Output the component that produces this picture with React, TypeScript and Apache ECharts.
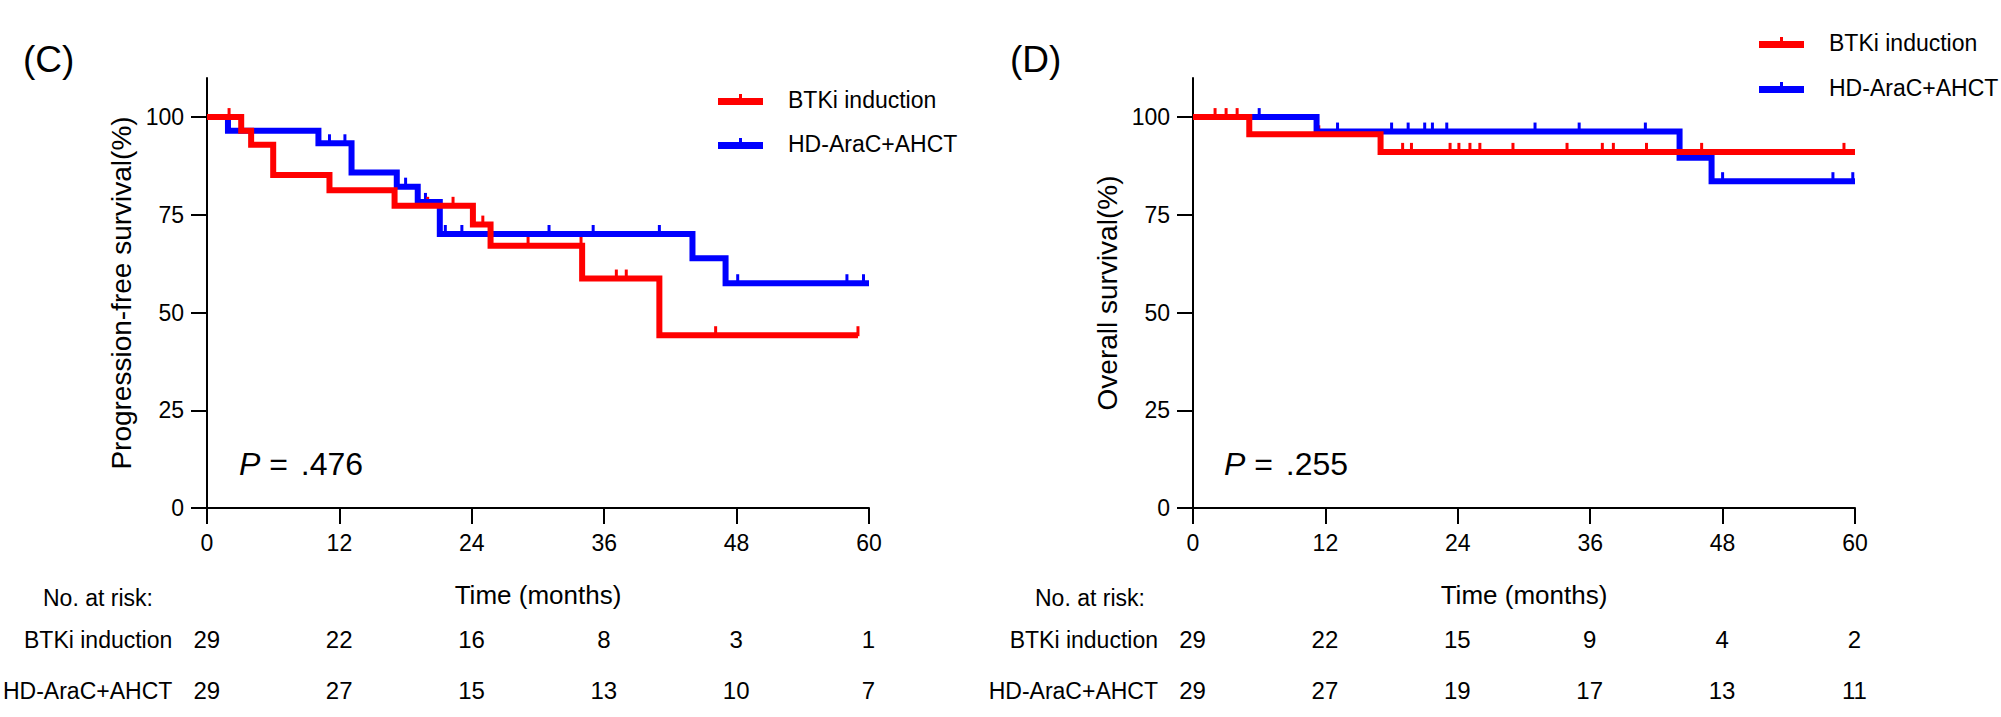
import React, { useEffect, useRef } from "react";
import * as echarts from "echarts";

const FONT = "'Liberation Sans', Arial, Helvetica, sans-serif";
const RED = "#ff0000";
const BLUE = "#0000ff";

const GROUPS = ["BTKi induction", "HD-AraC+AHCT"];
const X_TICKS = [0, 12, 24, 36, 48, 60];
const Y_TICKS = [0, 25, 50, 75, 100];

// Panel C: progression-free survival
const pfsBtkiTime = [0, 3.1, 4.0, 6.0, 11.1, 17.0, 24.1, 25.7, 34.0, 41.0, 59.0];
const pfsBtkiSurv = [100, 96.5, 92.9, 85.2, 81.3, 77.3, 72.5, 67.1, 58.7, 44.2, 44.2];
const pfsBtkiCensor = [2.0, 20.0, 22.3, 25.0, 29.1, 33.9, 37.1, 38.0, 46.1, 59.0];
const pfsAhctTime = [0, 1.9, 10.1, 13.1, 17.2, 19.1, 21.1, 44.0, 47.0, 60];
const pfsAhctSurv = [100, 96.5, 93.3, 85.8, 82.2, 78.3, 70.1, 63.9, 57.5, 57.5];
const pfsAhctCensor = [11.1, 12.5, 18.0, 19.8, 21.6, 23.1, 31.0, 35.0, 41.0, 48.1, 58.0, 59.5];
const pfsRiskBtki = [29, 22, 16, 8, 3, 1];
const pfsRiskAhct = [29, 27, 15, 13, 10, 7];

// Panel D: overall survival
const osBtkiTime = [0, 5.1, 17.0, 60];
const osBtkiSurv = [100, 95.6, 91.1, 91.1];
const osBtkiCensor = [2.0, 3.0, 4.0, 11.4, 19.0, 19.8, 23.3, 24.1, 25.1, 26.0, 29.0, 33.9, 37.1, 38.1, 41.1, 46.1, 59.0];
const osAhctTime = [0, 11.2, 44.1, 47.0, 60];
const osAhctSurv = [100, 96.3, 89.6, 83.6, 83.6];
const osAhctCensor = [6.0, 13.1, 18.0, 19.5, 21.0, 21.7, 23.0, 31.0, 35.0, 41.0, 48.0, 58.0, 59.8];
const osRiskBtki = [29, 22, 15, 9, 4, 2];
const osRiskAhct = [29, 27, 19, 17, 13, 11];

const survAt = (times: number[], surv: number[], t: number) => {
  let v = surv[0];
  for (let i = 0; i < times.length; i++) if (times[i] <= t) v = surv[i];
  return v;
};

const LEGEND_ICON = "path://M0,4H45V11H0ZM21,0H24V4H21Z";

function mainAxes(gridIndex: number, yName: string) {
  const x = {
    type: "value",
    gridIndex,
    min: 0,
    max: 60,
    interval: 12,
    name: "Time (months)",
    nameLocation: "middle",
    nameGap: 74,
    nameTextStyle: { fontSize: 26, color: "#000", fontFamily: FONT },
    axisLine: { onZero: false, lineStyle: { color: "#000", width: 2 } },
    axisTick: { length: 16, lineStyle: { color: "#000", width: 2 } },
    axisLabel: { fontSize: 23, color: "#000", margin: 23, fontFamily: FONT },
    splitLine: { show: false },
  };
  const y = {
    type: "value",
    gridIndex,
    min: 0,
    max: 110,
    name: yName,
    nameLocation: "middle",
    nameGap: 72,
    nameTextStyle: { fontSize: 28, color: "#000", fontFamily: FONT },
    axisLine: { onZero: false, lineStyle: { color: "#000", width: 2 } },
    axisTick: { length: 16, lineStyle: { color: "#000", width: 2 }, customValues: Y_TICKS },
    axisLabel: { fontSize: 23, color: "#000", margin: 23, fontFamily: FONT, customValues: Y_TICKS },
    splitLine: { show: false },
  };
  return { x, y };
}

function riskAxes(gridIndex: number) {
  const x = { type: "value", gridIndex, min: 0, max: 60, interval: 12, show: false };
  const y = {
    type: "category",
    gridIndex,
    data: GROUPS,
    inverse: true,
    axisLine: { show: false },
    axisTick: { show: false },
    axisLabel: { fontSize: 23, color: "#000", margin: 35, fontFamily: FONT },
    splitLine: { show: false },
  };
  return { x, y };
}

function kmSeries(name: string, color: string, idx: number, times: number[], surv: number[], censor: number[]) {
  return [
    {
      type: "line",
      name,
      xAxisIndex: idx,
      yAxisIndex: idx,
      step: "end",
      showSymbol: false,
      symbol: "none",
      data: times.map((t, i) => [t, surv[i]]),
      lineStyle: { color, width: 6, cap: "butt", join: "miter" },
      itemStyle: { color },
      silent: true,
    },
    {
      type: "scatter",
      name: name + " censored",
      xAxisIndex: idx,
      yAxisIndex: idx,
      symbol: "rect",
      symbolSize: [3, 10],
      symbolOffset: [0, -4],
      data: censor.map((t) => [t, survAt(times, surv, t)]),
      itemStyle: { color, opacity: 1 },
      silent: true,
    },
  ];
}

function riskSeries(idx: number, a: number[], b: number[]) {
  const data = [
    ...X_TICKS.map((t, i) => [t, GROUPS[0], a[i]]),
    ...X_TICKS.map((t, i) => [t, GROUPS[1], b[i]]),
  ];
  return {
    type: "scatter",
    xAxisIndex: idx,
    yAxisIndex: idx,
    symbolSize: 1,
    itemStyle: { color: "#ffffff", opacity: 1 },
    silent: true,
    data,
    label: {
      show: true,
      position: [0, 0],
      align: "center",
      verticalAlign: "middle",
      formatter: (p: any) => String(p.value[2]),
      fontSize: 24,
      color: "#000000",
      opacity: 1,
      textBorderWidth: 0,
      fontFamily: FONT,
    },
  };
}

export default function App() {
  const ref = useRef<HTMLDivElement>(null);
  useEffect(() => {
    document.body.style.margin = "0";
    if (!ref.current) return;
    const chart = echarts.init(ref.current, null, { renderer: "svg" });
    const c = mainAxes(0, "Progression-free survival(%)");
    const d = mainAxes(1, "Overall survival(%)");
    const rc = riskAxes(2);
    const rd = riskAxes(3);
    const legendBase = {
      orient: "vertical",
      itemWidth: 45,
      itemHeight: 11,
      selectedMode: false,
      textStyle: { fontSize: 23, color: "#000", fontFamily: FONT, padding: [0, 0, 0, 20], lineHeight: 22 },
      data: GROUPS.map((n) => ({ name: n, icon: LEGEND_ICON })),
    };
    const pStyle = (val: string) => ({
      text: "{i|P} = {n|" + val + "}",
      fontSize: 32,
      fill: "#000",
      fontFamily: FONT,
      verticalAlign: "middle",
      rich: {
        i: { fontStyle: "italic", fontSize: 32, fontFamily: FONT },
        n: { fontSize: 32, fontFamily: FONT, padding: [0, 0, 0, 4] },
      },
    });
    chart.setOption({
      animation: false,
      backgroundColor: "#fff",
      textStyle: { fontFamily: FONT },
      grid: [
        { left: 207, top: 78, width: 662, height: 430 },
        { left: 1193, top: 78, width: 662, height: 430 },
        { left: 207, top: 614, width: 662, height: 104 },
        { left: 1193, top: 614, width: 662, height: 104 },
      ],
      xAxis: [c.x, d.x, rc.x, rd.x],
      yAxis: [c.y, d.y, rc.y, rd.y],
      legend: [
        { ...legendBase, left: 713, top: 83, itemGap: 21 },
        { ...legendBase, left: 1754, top: 26, itemGap: 22 },
      ],
      graphic: [
        { type: "text", x: 23, y: 59, style: { text: "(C)", fontSize: 37, fill: "#000", fontFamily: FONT, verticalAlign: "middle" } },
        { type: "text", x: 1010, y: 59, style: { text: "(D)", fontSize: 37, fill: "#000", fontFamily: FONT, verticalAlign: "middle" } },
        { type: "text", x: 239, y: 464, style: pStyle(".476") },
        { type: "text", x: 1224, y: 464, style: pStyle(".255") },
        { type: "text", x: 43, y: 598, style: { text: "No. at risk:", fontSize: 23, fill: "#000", fontFamily: FONT, verticalAlign: "middle" } },
        { type: "text", x: 1035, y: 598, style: { text: "No. at risk:", fontSize: 23, fill: "#000", fontFamily: FONT, verticalAlign: "middle" } },
      ],
      series: [
        ...kmSeries(GROUPS[1], BLUE, 0, pfsAhctTime, pfsAhctSurv, pfsAhctCensor),
        ...kmSeries(GROUPS[0], RED, 0, pfsBtkiTime, pfsBtkiSurv, pfsBtkiCensor),
        ...kmSeries(GROUPS[1], BLUE, 1, osAhctTime, osAhctSurv, osAhctCensor),
        ...kmSeries(GROUPS[0], RED, 1, osBtkiTime, osBtkiSurv, osBtkiCensor),
        riskSeries(2, pfsRiskBtki, pfsRiskAhct),
        riskSeries(3, osRiskBtki, osRiskAhct),
      ],
    });
    return () => chart.dispose();
  }, []);
  return <div ref={ref} style={{ width: 2001, height: 717 }} />;
}
